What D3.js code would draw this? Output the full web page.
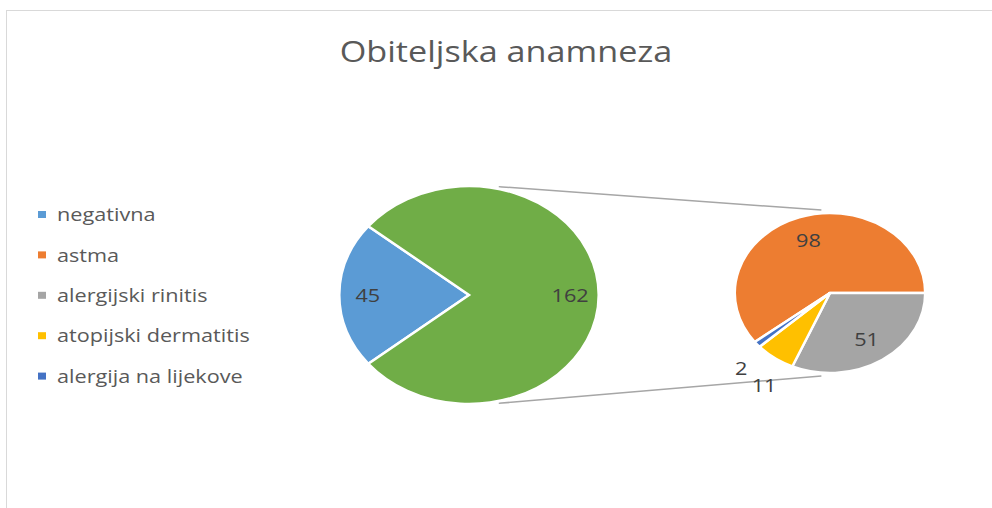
<!DOCTYPE html>
<html>
<head>
<meta charset="utf-8">
<script src="https://cdn.jsdelivr.net/npm/d3@7"></script>
<style>
  body { margin: 0; background: #fff; }
  svg { display: block; font-family: "Open Sans", "Noto Sans", sans-serif; }
</style>
</head>
<body>
<div id="chart"></div>
<script>
(function(){
    // Data
    const title = "Obiteljska anamneza";
    const mainLabels = ["negativna", "other"];
    const mainValues = [45, 162];
    const subLabels = ["astma", "alergijski rinitis", "atopijski dermatitis", "alergija na lijekove"];
    const subValues = [98, 51, 11, 2];
    const legendLabels = ["negativna", "astma", "alergijski rinitis", "atopijski dermatitis", "alergija na lijekove"];

    const colors = {
        "negativna": "#5B9BD5",
        "other": "#70AD47",
        "astma": "#ED7D31",
        "alergijski rinitis": "#A5A5A5",
        "atopijski dermatitis": "#FFC000",
        "alergija na lijekove": "#4472C4"
    };

    const width = 992, height = 508;
    const stretch = 1.19;   // the picture is wider than tall
    const textStretch = 1.14;

    const svg = d3.select("#chart").append("svg")
        .attr("width", width)
        .attr("height", height);

    // Chart area frame
    svg.append("rect")
        .attr("x", 6.5).attr("y", 10.5)
        .attr("width", 1000).attr("height", 600)
        .attr("fill", "#fff")
        .attr("stroke", "#d9d9d9");

    // stretched text helper
    function addText(x, y, txt, size, fill, anchor) {
        return svg.append("text")
            .attr("transform", `translate(${x},${y}) scale(${textStretch},1)`)
            .attr("text-anchor", anchor || "middle")
            .style("font-size", size + "px")
            .style("fill", fill)
            .text(txt);
    }

    // Title
    addText(506, 62, title, 30, "#595959");

    // Legend
    legendLabels.forEach((d, i) => {
        const y = 214.5 + i * 40.4;
        svg.append("rect")
            .attr("x", 38).attr("y", y - 3.5)
            .attr("width", 8).attr("height", 7)
            .attr("fill", colors[d]);
        addText(57, y, d, 19, "#595959", "start").attr("dy", "0.35em");
    });

    const mainC = { x: 469, y: 295, r: 109 };
    const subC = { x: 830, y: 293, r: 80 };

    // point on a stretched circle, math angle in degrees
    function pt(c, deg, k) {
        const a = deg * Math.PI / 180;
        return [c.x + c.r * k * stretch * Math.cos(a), c.y - c.r * k * Math.sin(a)];
    }

    // Connector lines
    [[77, 95], [-77, -95]].forEach(([a, b]) => {
        const p1 = pt(mainC, a, 1.02), p2 = pt(subC, b, 1.04);
        svg.append("line")
            .attr("x1", p1[0]).attr("y1", p1[1])
            .attr("x2", p2[0]).attr("y2", p2[1])
            .attr("stroke", "#a6a6a6")
            .attr("stroke-width", 1.5);
    });

    // Main pie: negativna centred on the left side
    const blueSpan = 2 * Math.PI * mainValues[0] / d3.sum(mainValues);
    const mainStart = 1.5 * Math.PI - blueSpan / 2;
    const mainPie = d3.pie().sort(null)
        .startAngle(mainStart)
        .endAngle(mainStart + 2 * Math.PI);
    const mainArc = d3.arc().innerRadius(0).outerRadius(mainC.r);

    const mainG = svg.append("g")
        .attr("transform", `translate(${mainC.x},${mainC.y}) scale(${stretch},1)`);
    const mainArcs = mainPie(mainValues);
    mainG.selectAll("path")
        .data(mainArcs)
        .enter().append("path")
        .attr("d", mainArc)
        .attr("fill", (d, i) => colors[mainLabels[i]])
        .attr("stroke", "#fff")
        .attr("stroke-width", 2.5)
        .attr("vector-effect", "non-scaling-stroke");

    // Secondary pie: astma ends at the right, the rest follow clockwise
    const astmaSpan = 2 * Math.PI * subValues[0] / d3.sum(subValues);
    const subStart = Math.PI / 2 - astmaSpan;
    const subPie = d3.pie().sort(null)
        .startAngle(subStart)
        .endAngle(subStart + 2 * Math.PI);
    const subArc = d3.arc().innerRadius(0).outerRadius(subC.r);

    const subG = svg.append("g")
        .attr("transform", `translate(${subC.x},${subC.y}) scale(${stretch},1)`);
    const subArcs = subPie(subValues);
    subG.selectAll("path")
        .data(subArcs)
        .enter().append("path")
        .attr("d", subArc)
        .attr("fill", (d, i) => colors[subLabels[i]])
        .attr("stroke", "#fff")
        .attr("stroke-width", 2.5)
        .attr("vector-effect", "non-scaling-stroke");

    // Data labels
    function labelPos(c, d, k) {
        const mid = (d.startAngle + d.endAngle) / 2;
        return [c.x + Math.sin(mid) * c.r * k * stretch, c.y - Math.cos(mid) * c.r * k];
    }
    function addLabel(p, txt) {
        addText(p[0], p[1], txt, 19, "#404040").attr("dy", "0.35em");
    }
    mainArcs.forEach(d => addLabel(labelPos(mainC, d, 0.78), d.data));
    const subTotal = d3.sum(subValues);
    subArcs.forEach(d => {
        const outside = d.data / subTotal < 0.1;
        const p = labelPos(subC, d, outside ? 1.3 : 0.7);
        if (outside) { p[0] += 6; p[1] += 8; }
        addLabel(p, d.data);
    });
})();
</script>
</body>
</html>
